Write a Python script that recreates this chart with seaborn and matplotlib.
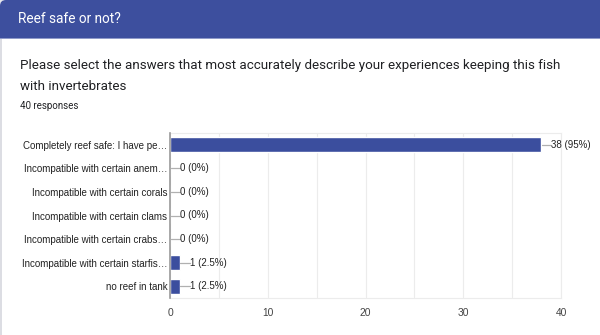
import matplotlib
matplotlib.use("Agg")
import matplotlib.pyplot as plt
import matplotlib.transforms as mtransforms
from matplotlib.patches import FancyBboxPatch, Rectangle
import seaborn as sns
import pandas as pd

# Survey answers (truncated as shown in the form summary) and counts
categories = [
    "Completely reef safe: I have pe\u2026",
    "Incompatible with certain anem\u2026",
    "Incompatible with certain corals",
    "Incompatible with certain clams",
    "Incompatible with certain crabs\u2026",
    "Incompatible with certain starfis\u2026",
    "no reef in tank",
]
counts = [38, 0, 0, 0, 0, 1, 1]
percent_labels = ["95%", "0%", "0%", "0%", "0%", "2.5%", "2.5%"]
x_ticks = [0, 10, 20, 30, 40]

total_responses = 40
header_title = "Reef safe or not?"
question = ("Please select the answers that most accurately describe your experiences keeping this fish\n"
            "with invertebrates")

W, H = 600, 335
BLUE = "#3b4e9e"
HEADER = "#3d4f9e"

sns.set_theme(style="white")
plt.rcParams["font.family"] = ["Liberation Sans", "DejaVu Sans"]

fig = plt.figure(figsize=(W / 100, H / 100), dpi=100)
fig.patch.set_facecolor("white")

def fx(px):
    return px / W

def fy(py):
    return 1 - py / H

# page backdrop behind the card's rounded corner, then the header band (pixel units)
fig.patches.append(Rectangle((0, H - 8), 8, 8, transform=None,
                             facecolor="#e6e7ec", edgecolor="none", zorder=0))
fig.patches.append(FancyBboxPatch((0, H - 48), W + 20, 48,
                                  boxstyle="round,pad=0,rounding_size=6",
                                  transform=None, facecolor=HEADER,
                                  edgecolor="none", zorder=1))
fig.patches.append(Rectangle((0, H - 60), W, 22, transform=None,
                             facecolor="white", edgecolor="none", zorder=1.5))
fig.patches.append(Rectangle((0, H - 39.2), W, 1.4, transform=None,
                             facecolor="#8f9ac9", edgecolor="none", zorder=2))
fig.patches.append(Rectangle((0, 0), 1.5, H - 39, transform=None,
                             facecolor="#dcdde3", edgecolor="none", zorder=2))

fig.text(fx(18), fy(19), header_title, color="white", fontsize=9.8,
         family=["Roboto", "DejaVu Sans"], va="center", ha="left")
fig.text(fx(20), fy(76), question, color="#202124", fontsize=9.6,
         family=["Roboto", "DejaVu Sans"], va="center", ha="left", linespacing=1.75)
fig.text(fx(20), fy(106), f"{total_responses} responses", color="#202124", fontsize=7.0,
         family=["Roboto", "DejaVu Sans"], va="center", ha="left")

# chart area
ax = fig.add_axes([fx(170), fy(298), fx(561 - 170), (298 - 133) / H])
df = pd.DataFrame({"answer": categories, "count": counts})
sns.barplot(data=df, x="count", y="answer", orient="h", color=BLUE,
            saturation=1, width=0.62, ax=ax, zorder=3)

ax.set_xlim(0, 40)
ax.set_xticks(x_ticks)
ax.set_xticks(range(5, 40, 10), minor=True)
ax.grid(axis="x", which="both", color="#ececec", linewidth=0.8, zorder=0)
ax.set_xlabel("")
ax.set_ylabel("")
ax.tick_params(axis="both", length=0, labelsize=7.0, colors="#222222")
ax.tick_params(axis="x", pad=7, labelsize=7.4, colors="#444444")
ax.tick_params(axis="y", pad=2)
for side in ["top", "right", "bottom"]:
    ax.spines[side].set_color("#ececec")
    ax.spines[side].set_linewidth(0.8)
ax.spines["left"].set_color("#9a9a9a")
ax.spines["left"].set_linewidth(1.2)
ax.spines["left"].set_zorder(4)

# leader lines and value labels
label_tr = mtransforms.offset_copy(ax.transData, fig=fig, x=10, y=0, units="dots")
for i, (c, p) in enumerate(zip(counts, percent_labels)):
    x0, y0 = ax.transData.transform((c, i))
    ax.add_line(plt.Line2D([x0 + 0.5, x0 + 10], [y0, y0], transform=None,
                           color="#b0b0b0", linewidth=0.9, zorder=5))
    ax.text(c, i, f"{c} ({p})", transform=label_tr, va="center", ha="left",
            fontsize=7.0, color="#222222", zorder=6, clip_on=False)

fig.savefig("out.png", dpi=100)
